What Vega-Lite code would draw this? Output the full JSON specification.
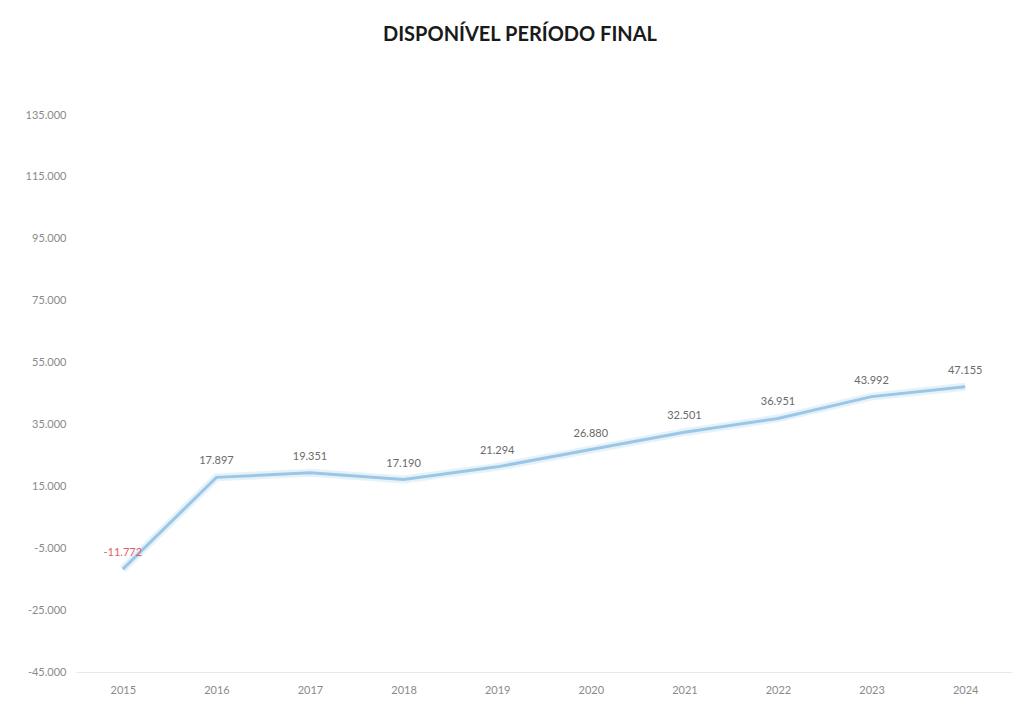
{
  "$schema": "https://vega.github.io/schema/vega-lite/v6.json",
  "width": 936,
  "height": 557,
  "autosize": {"type": "none"},
  "padding": {"left": 76, "top": 115, "right": 17, "bottom": 33},
  "background": "white",
  "config": {
    "locale": {"number": {"decimal": ",", "thousands": ".", "grouping": [3], "currency": ["R$", ""], "minus": "-"}},
    "font": "Lato",
    "view": {"stroke": null}
  },
  "title": {
    "text": "DISPONÍVEL PERÍODO FINAL",
    "fontSize": 20,
    "fontWeight": "bold",
    "color": "#1a1a1a",
    "anchor": "middle",
    "dx": -24,
    "offset": 64
  },
  "data": {
    "values": [
      {"ano": "2015", "valor": -11772},
      {"ano": "2016", "valor": 17897},
      {"ano": "2017", "valor": 19351},
      {"ano": "2018", "valor": 17190},
      {"ano": "2019", "valor": 21294},
      {"ano": "2020", "valor": 26880},
      {"ano": "2021", "valor": 32501},
      {"ano": "2022", "valor": 36951},
      {"ano": "2023", "valor": 43992},
      {"ano": "2024", "valor": 47155}
    ]
  },
  "encoding": {
    "x": {
      "field": "ano",
      "type": "ordinal",
      "scale": {"type": "point", "padding": 0.5},
      "axis": {
        "title": null,
        "labelAngle": 0,
        "labelFontSize": 11,
        "labelColor": "#8a8a8a",
        "labelPadding": 12,
        "ticks": false,
        "domain": true,
        "domainColor": "#e8e8e8",
        "grid": false
      }
    },
    "y": {
      "field": "valor",
      "type": "quantitative",
      "scale": {"domain": [-45000, 135000], "nice": false, "zero": false},
      "axis": {
        "title": null,
        "values": [-45000, -25000, -5000, 15000, 35000, 55000, 75000, 95000, 115000, 135000],
        "format": ",d",
        "labelFontSize": 11,
        "labelColor": "#8a8a8a",
        "labelPadding": 10,
        "ticks": false,
        "domain": false,
        "grid": false
      }
    }
  },
  "layer": [
    {
      "mark": {"type": "line", "color": "#dcecf7", "strokeWidth": 8, "opacity": 0.7}
    },
    {
      "mark": {"type": "line", "color": "#9cc6e6", "strokeWidth": 3}
    },
    {
      "mark": {"type": "text", "dy": -16, "fontSize": 11},
      "encoding": {
        "text": {"field": "valor", "type": "quantitative", "format": ",d"},
        "color": {
          "condition": {"test": "datum.valor < 0", "value": "#e06060"},
          "value": "#6a6a6a"
        }
      }
    }
  ]
}
